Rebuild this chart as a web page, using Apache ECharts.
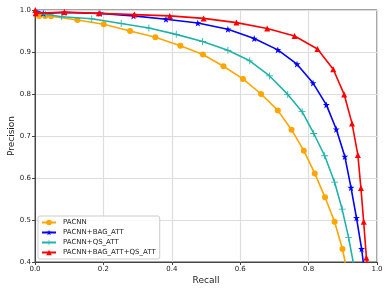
<!DOCTYPE html>
<html><head><meta charset="utf-8">
<script src="https://cdn.jsdelivr.net/npm/echarts@6/dist/echarts.min.js"></script>
<style>html,body{margin:0;padding:0;background:#fff}#c{width:390px;height:293px}</style>
</head><body><div id="c"></div>
<script>
const seriesNames = ['PACNN', 'PACNN+BAG_ATT', 'PACNN+QS_ATT', 'PACNN+BAG_ATT+QS_ATT'];
const xTicks = [0, 0.2, 0.4, 0.6, 0.8, 1.0];
const yTicks = [0.4, 0.5, 0.6, 0.7, 0.8, 0.9, 1.0];

// PACNN
const pacnnRecall =    [0.003, 0.012, 0.03, 0.047, 0.124, 0.201, 0.278, 0.352, 0.425, 0.491, 0.551, 0.608, 0.661, 0.710, 0.750, 0.786, 0.818, 0.848, 0.876, 0.899, 0.912];
const pacnnPrecision = [0.995, 0.986, 0.986, 0.985, 0.976, 0.966, 0.950, 0.935, 0.915, 0.894, 0.866, 0.836, 0.800, 0.761, 0.715, 0.665, 0.611, 0.554, 0.496, 0.431, 0.380];
// PACNN+BAG_ATT
const bagRecall =    [0.002, 0.024, 0.086, 0.190, 0.288, 0.383, 0.476, 0.564, 0.641, 0.710, 0.766, 0.813, 0.852, 0.881, 0.906, 0.924, 0.940, 0.955, 0.963];
const bagPrecision = [0.999, 0.992, 0.994, 0.992, 0.986, 0.978, 0.969, 0.954, 0.932, 0.905, 0.871, 0.826, 0.774, 0.716, 0.651, 0.577, 0.505, 0.431, 0.380];
// PACNN+QS_ATT
const qsRecall =    [0.002, 0.030, 0.078, 0.166, 0.252, 0.333, 0.413, 0.490, 0.564, 0.628, 0.686, 0.739, 0.781, 0.815, 0.847, 0.876, 0.898, 0.917, 0.935];
const qsPrecision = [0.996, 0.990, 0.984, 0.979, 0.968, 0.957, 0.942, 0.925, 0.904, 0.879, 0.843, 0.799, 0.758, 0.706, 0.653, 0.590, 0.526, 0.458, 0.380];
// PACNN+BAG_ATT+QS_ATT
const bothRecall =    [0.001, 0.002, 0.086, 0.187, 0.291, 0.394, 0.493, 0.589, 0.679, 0.759, 0.826, 0.872, 0.904, 0.927, 0.944, 0.953, 0.961, 0.969, 0.974];
const bothPrecision = [1.000, 0.992, 0.995, 0.992, 0.989, 0.986, 0.980, 0.970, 0.956, 0.938, 0.907, 0.859, 0.799, 0.730, 0.655, 0.576, 0.496, 0.410, 0.380];

const colors = ['#FFA500', '#0000FF', '#20B2AA', '#FF0000'];
const starPath = 'path://M50,0 L61.8,35.4 L100,35.4 L69.1,57.3 L80.9,95.1 L50,73.2 L19.1,95.1 L30.9,57.3 L0,35.4 L38.2,35.4 Z';
const plusPath = 'path://M44,0 L56,0 L56,44 L100,44 L100,56 L56,56 L56,100 L44,100 L44,56 L0,56 L0,44 L44,44 Z';
const symbols = ['circle', starPath, plusPath, 'triangle'];
const symbolSizes = [6, 7, 7, 6];
const xs = [pacnnRecall, bagRecall, qsRecall, bothRecall];
const ys = [pacnnPrecision, bagPrecision, qsPrecision, bothPrecision];

function build(i) {
  const n = xs[i].length;
  return xs[i].map((x, k) => {
    const item = { value: [x, ys[i][k]] };
    if (k === n - 1 || (k === 0 && i !== 3)) item.symbol = 'none';
    return item;
  });
}

const chart = echarts.init(document.getElementById('c'), null, { renderer: 'canvas' });
const FONT = 'DejaVu Sans';
chart.setOption({
  animation: false,
  backgroundColor: '#fff',
  textStyle: { fontFamily: FONT },
  grid: { left: 35, right: 13, top: 10, bottom: 31, containLabel: false, outerBoundsMode: 'none',
          show: true, borderColor: '#444', borderWidth: 1, backgroundColor: 'transparent' },
  xAxis: {
    type: 'value', min: 0, max: 1, interval: 0.2,
    name: 'Recall', nameLocation: 'middle', nameGap: 14, nameMoveOverlap: false,
    nameTextStyle: { fontSize: 9, color: '#222', fontFamily: FONT },
    axisLine: { show: true, onZero: false, lineStyle: { color: '#444', width: 1 } },
    axisTick: { show: true, length: 3, lineStyle: { color: '#444' } },
    axisLabel: { fontSize: 7, color: '#222', margin: 4, fontFamily: FONT, formatter: v => v.toFixed(1) },
    splitLine: { show: true, lineStyle: { color: '#ddd', width: 1.2 } }
  },
  yAxis: {
    type: 'value', min: 0.4, max: 1.0, interval: 0.1,
    name: 'Precision', nameLocation: 'middle', nameGap: 18.5, nameRotate: 90, nameMoveOverlap: false,
    nameTextStyle: { fontSize: 9, color: '#222', fontFamily: FONT },
    axisLine: { show: true, onZero: false, lineStyle: { color: '#444', width: 1 } },
    axisTick: { show: true, length: 3, lineStyle: { color: '#444' } },
    axisLabel: { fontSize: 7, color: '#222', margin: 4, fontFamily: FONT, formatter: v => v.toFixed(1) },
    splitLine: { show: true, lineStyle: { color: '#ddd', width: 1.2 } }
  },
  legend: {
    orient: 'vertical', left: 38, top: 216,
    data: seriesNames.slice(),
    itemWidth: 14, itemHeight: 7, itemGap: 3,
    padding: [3, 4, 3, 3],
    borderColor: '#ccc', borderWidth: 1, borderRadius: 2,
    backgroundColor: 'rgba(255,255,255,0.85)',
    textStyle: { fontSize: 7, color: '#222', fontFamily: FONT, padding: [0, 0, 0, 2] }
  },
  series: seriesNames.map((name, i) => ({
    name, type: 'line', data: build(i),
    color: colors[i],
    symbol: symbols[i], symbolSize: symbolSizes[i], showSymbol: true,
    lineStyle: { width: 1.6, color: colors[i] },
    itemStyle: { color: colors[i] },
    clip: true, z: 2 + i
  }))
});
</script>
</body></html>
